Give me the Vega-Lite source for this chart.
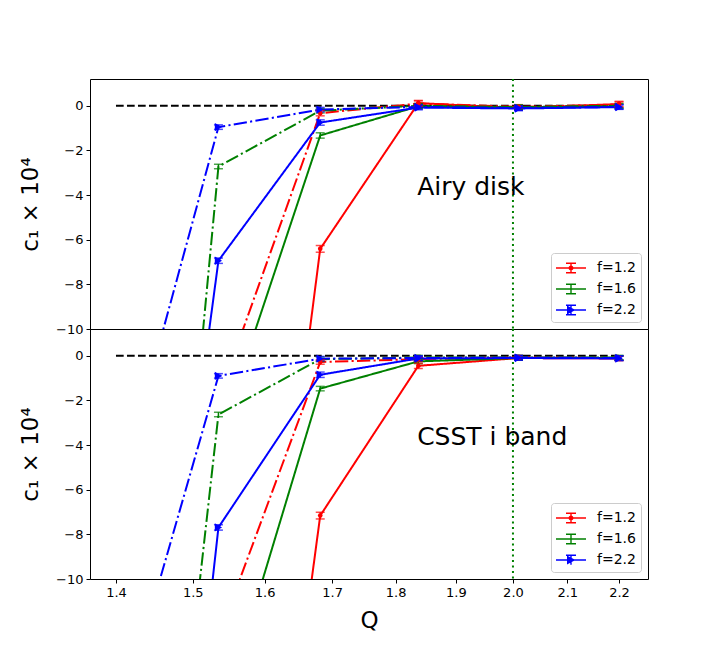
{
  "$schema": "https://vega.github.io/schema/vega-lite/v6.json",
  "background": "white",
  "padding": {"left": 18, "top": 77, "right": 5, "bottom": 5},
  "spacing": 0,
  "bounds": "flush",
  "config": {
    "font": "DejaVu Sans",
    "view": {"stroke": "black", "strokeWidth": 1},
    "axis": {"grid": false, "domain": false, "tickColor": "black", "tickSize": 4, "labelColor": "black", "labelFontSize": 13, "labelPadding": 3, "titleColor": "black", "titleFontWeight": "normal", "titleFontSize": 23, "labelFlush": false, "labelOverlap": false},
    "legend": {"orient": "bottom-right", "offset": 7, "fillColor": "white", "strokeColor": "#cccccc", "cornerRadius": 3, "padding": 5, "labelFontSize": 14, "labelColor": "black", "symbolSize": 400, "rowPadding": 4, "labelOffset": 21, "symbolOpacity": 1, "symbolStrokeWidth": 0}
  },
  "datasets": {
    "airy": [
      {"f": "f=1.2", "style": "solid", "Q": 1.535, "y": -42.0, "lo": -42.0, "hi": -42.0},
      {"f": "f=1.2", "style": "solid", "Q": 1.682, "y": -6.41, "lo": -6.56, "hi": -6.26},
      {"f": "f=1.2", "style": "solid", "Q": 1.837, "y": 0.12, "lo": 0.0, "hi": 0.24},
      {"f": "f=1.2", "style": "solid", "Q": 2.01, "y": -0.1, "lo": -0.2, "hi": 0.0},
      {"f": "f=1.2", "style": "solid", "Q": 2.2, "y": 0.08, "lo": -0.04, "hi": 0.2},
      {"f": "f=1.2", "style": "dashdot", "Q": 1.535, "y": -13.1, "lo": -13.1, "hi": -13.1},
      {"f": "f=1.2", "style": "dashdot", "Q": 1.682, "y": -0.33, "lo": -0.45, "hi": -0.21},
      {"f": "f=1.2", "style": "dashdot", "Q": 1.837, "y": 0.1, "lo": -0.02, "hi": 0.22},
      {"f": "f=1.2", "style": "dashdot", "Q": 2.01, "y": -0.05, "lo": -0.15, "hi": 0.05},
      {"f": "f=1.2", "style": "dashdot", "Q": 2.2, "y": 0.05, "lo": -0.07, "hi": 0.17},
      {"f": "f=1.6", "style": "solid", "Q": 1.535, "y": -15.0, "lo": -15.0, "hi": -15.0},
      {"f": "f=1.6", "style": "solid", "Q": 1.682, "y": -1.33, "lo": -1.45, "hi": -1.21},
      {"f": "f=1.6", "style": "solid", "Q": 1.837, "y": -0.02, "lo": -0.12, "hi": 0.08},
      {"f": "f=1.6", "style": "solid", "Q": 2.01, "y": -0.08, "lo": -0.18, "hi": 0.02},
      {"f": "f=1.6", "style": "solid", "Q": 2.2, "y": -0.02, "lo": -0.12, "hi": 0.08},
      {"f": "f=1.6", "style": "dashdot", "Q": 1.403, "y": -50.4, "lo": -50.4, "hi": -50.4},
      {"f": "f=1.6", "style": "dashdot", "Q": 1.535, "y": -2.72, "lo": -2.82, "hi": -2.62},
      {"f": "f=1.6", "style": "dashdot", "Q": 1.682, "y": -0.22, "lo": -0.32, "hi": -0.12},
      {"f": "f=1.6", "style": "dashdot", "Q": 1.837, "y": 0.0, "lo": -0.1, "hi": 0.1},
      {"f": "f=1.6", "style": "dashdot", "Q": 2.01, "y": -0.06, "lo": -0.16, "hi": 0.04},
      {"f": "f=1.6", "style": "dashdot", "Q": 2.2, "y": 0.0, "lo": -0.1, "hi": 0.1},
      {"f": "f=2.2", "style": "solid", "Q": 1.403, "y": -40.5, "lo": -40.5, "hi": -40.5},
      {"f": "f=2.2", "style": "solid", "Q": 1.535, "y": -6.94, "lo": -7.06, "hi": -6.82},
      {"f": "f=2.2", "style": "solid", "Q": 1.682, "y": -0.75, "lo": -0.87, "hi": -0.63},
      {"f": "f=2.2", "style": "solid", "Q": 1.837, "y": -0.08, "lo": -0.18, "hi": 0.02},
      {"f": "f=2.2", "style": "solid", "Q": 2.01, "y": -0.12, "lo": -0.22, "hi": -0.02},
      {"f": "f=2.2", "style": "solid", "Q": 2.2, "y": -0.06, "lo": -0.16, "hi": 0.04},
      {"f": "f=2.2", "style": "dashdot", "Q": 1.403, "y": -17.4, "lo": -17.4, "hi": -17.4},
      {"f": "f=2.2", "style": "dashdot", "Q": 1.535, "y": -0.955, "lo": -1.055, "hi": -0.855},
      {"f": "f=2.2", "style": "dashdot", "Q": 1.682, "y": -0.17, "lo": -0.27, "hi": -0.07},
      {"f": "f=2.2", "style": "dashdot", "Q": 1.837, "y": -0.05, "lo": -0.15, "hi": 0.05},
      {"f": "f=2.2", "style": "dashdot", "Q": 2.01, "y": -0.1, "lo": -0.2, "hi": 0.0},
      {"f": "f=2.2", "style": "dashdot", "Q": 2.2, "y": -0.05, "lo": -0.15, "hi": 0.05}
    ],
    "csst": [
      {"f": "f=1.2", "style": "solid", "Q": 1.535, "y": -41.3, "lo": -41.3, "hi": -41.3},
      {"f": "f=1.2", "style": "solid", "Q": 1.682, "y": -7.16, "lo": -7.31, "hi": -7.01},
      {"f": "f=1.2", "style": "solid", "Q": 1.837, "y": -0.45, "lo": -0.57, "hi": -0.33},
      {"f": "f=1.2", "style": "solid", "Q": 2.01, "y": -0.1, "lo": -0.2, "hi": 0.0},
      {"f": "f=1.2", "style": "solid", "Q": 2.2, "y": -0.12, "lo": -0.22, "hi": -0.02},
      {"f": "f=1.2", "style": "dashdot", "Q": 1.535, "y": -12.6, "lo": -12.6, "hi": -12.6},
      {"f": "f=1.2", "style": "dashdot", "Q": 1.682, "y": -0.28, "lo": -0.38, "hi": -0.18},
      {"f": "f=1.2", "style": "dashdot", "Q": 1.837, "y": -0.15, "lo": -0.25, "hi": -0.05},
      {"f": "f=1.2", "style": "dashdot", "Q": 2.01, "y": -0.08, "lo": -0.18, "hi": 0.02},
      {"f": "f=1.2", "style": "dashdot", "Q": 2.2, "y": -0.1, "lo": -0.2, "hi": 0.0},
      {"f": "f=1.6", "style": "solid", "Q": 1.535, "y": -16.6, "lo": -16.6, "hi": -16.6},
      {"f": "f=1.6", "style": "solid", "Q": 1.682, "y": -1.47, "lo": -1.57, "hi": -1.37},
      {"f": "f=1.6", "style": "solid", "Q": 1.837, "y": -0.25, "lo": -0.35, "hi": -0.15},
      {"f": "f=1.6", "style": "solid", "Q": 2.01, "y": -0.1, "lo": -0.2, "hi": 0.0},
      {"f": "f=1.6", "style": "solid", "Q": 2.2, "y": -0.1, "lo": -0.2, "hi": 0.0},
      {"f": "f=1.6", "style": "dashdot", "Q": 1.403, "y": -42.7, "lo": -42.7, "hi": -42.7},
      {"f": "f=1.6", "style": "dashdot", "Q": 1.535, "y": -2.63, "lo": -2.73, "hi": -2.53},
      {"f": "f=1.6", "style": "dashdot", "Q": 1.682, "y": -0.15, "lo": -0.25, "hi": -0.05},
      {"f": "f=1.6", "style": "dashdot", "Q": 1.837, "y": -0.08, "lo": -0.18, "hi": 0.02},
      {"f": "f=1.6", "style": "dashdot", "Q": 2.01, "y": -0.08, "lo": -0.18, "hi": 0.02},
      {"f": "f=1.6", "style": "dashdot", "Q": 2.2, "y": -0.08, "lo": -0.18, "hi": 0.02},
      {"f": "f=2.2", "style": "solid", "Q": 1.403, "y": -48.2, "lo": -48.2, "hi": -48.2},
      {"f": "f=2.2", "style": "solid", "Q": 1.535, "y": -7.69, "lo": -7.81, "hi": -7.57},
      {"f": "f=2.2", "style": "solid", "Q": 1.682, "y": -0.85, "lo": -0.97, "hi": -0.73},
      {"f": "f=2.2", "style": "solid", "Q": 1.837, "y": -0.12, "lo": -0.22, "hi": -0.02},
      {"f": "f=2.2", "style": "solid", "Q": 2.01, "y": -0.1, "lo": -0.2, "hi": 0.0},
      {"f": "f=2.2", "style": "solid", "Q": 2.2, "y": -0.12, "lo": -0.22, "hi": -0.02},
      {"f": "f=2.2", "style": "dashdot", "Q": 1.403, "y": -16.5, "lo": -16.5, "hi": -16.5},
      {"f": "f=2.2", "style": "dashdot", "Q": 1.535, "y": -0.9, "lo": -1.0, "hi": -0.8},
      {"f": "f=2.2", "style": "dashdot", "Q": 1.682, "y": -0.13, "lo": -0.23, "hi": -0.03},
      {"f": "f=2.2", "style": "dashdot", "Q": 1.837, "y": -0.1, "lo": -0.2, "hi": 0.0},
      {"f": "f=2.2", "style": "dashdot", "Q": 2.01, "y": -0.08, "lo": -0.18, "hi": 0.02},
      {"f": "f=2.2", "style": "dashdot", "Q": 2.2, "y": -0.1, "lo": -0.2, "hi": 0.0}
    ]
  },
  "resolve": {
    "scale": {"color": "independent", "shape": "independent", "strokeDash": "independent", "stroke": "independent", "fill": "independent"},
    "legend": {"color": "independent", "shape": "independent"}
  },
  "vconcat": [
    {
      "width": 558, "height": 250,
      "encoding": {
        "x": {"field": "Q", "type": "quantitative", "scale": {"type": "log", "domain": [1.3677, 2.258], "nice": false, "zero": false}, "axis": null}
      },
      "layer": [
        {
          "data": {"values": [{"Q": 2.0}]},
          "mark": {"type": "rule", "color": "#008000", "strokeWidth": 2, "strokeDash": [2.1, 3.4]},
          "encoding": {}
        },
        {
          "data": {"values": [{"Q": 1.4, "Q2": 2.2, "y": 0}]},
          "mark": {"type": "rule", "color": "black", "strokeWidth": 2, "strokeDash": [7.7, 3.3]},
          "encoding": {
            "x2": {"field": "Q2"},
            "y": {"field": "y", "type": "quantitative", "scale": {"domain": [-10, 1.2], "nice": false, "zero": false}, "axis": {"values": [-10, -8, -6, -4, -2, 0], "format": "d", "title": "c₁ × 10⁴", "titlePadding": 12, "minExtent": 36, "maxExtent": 36}}
          }
        },
        {
          "data": {"name": "airy"},
          "mark": {"type": "line", "strokeWidth": 2, "clip": true},
          "encoding": {
            "y": {"field": "y", "type": "quantitative"},
            "stroke": {"field": "f", "type": "nominal", "scale": {"range": ["#ff0000", "#008000", "#0000ff"]}, "legend": null},
            "strokeDash": {"field": "style", "type": "nominal", "scale": {"domain": ["solid", "dashdot"], "range": [[1, 0], [13.3, 3.3, 2.1, 3.3]]}, "legend": null}
          }
        },
        {
          "data": {"name": "airy"},
          "mark": {"type": "rule", "strokeWidth": 1.5, "clip": true},
          "encoding": {
            "y": {"field": "lo", "type": "quantitative"},
            "y2": {"field": "hi"},
            "stroke": {"field": "f", "type": "nominal", "legend": null}
          }
        },
        {
          "data": {"name": "airy"},
          "mark": {"type": "tick", "orient": "horizontal", "size": 9, "thickness": 1.5, "clip": true},
          "encoding": {
            "y": {"field": "lo", "type": "quantitative"},
            "fill": {"field": "f", "type": "nominal", "scale": {"range": ["#ff0000", "#008000", "#0000ff"]}, "legend": null}
          }
        },
        {
          "data": {"name": "airy"},
          "mark": {"type": "tick", "orient": "horizontal", "size": 9, "thickness": 1.5, "clip": true},
          "encoding": {
            "y": {"field": "hi", "type": "quantitative"},
            "fill": {"field": "f", "type": "nominal", "legend": null}
          }
        },
        {
          "data": {"name": "airy"},
          "transform": [{"filter": {"field": "f", "equal": "f=1.2"}}],
          "mark": {"type": "point", "filled": true, "shape": "circle", "size": 22, "opacity": 1, "clip": true},
          "encoding": {
            "y": {"field": "y", "type": "quantitative"},
            "fill": {"field": "f", "type": "nominal", "legend": null}
          }
        },
        {
          "data": {"name": "airy"},
          "transform": [{"filter": {"field": "f", "equal": "f=2.2"}}],
          "mark": {"type": "point", "filled": true, "shape": "triangle-right", "size": 70, "opacity": 1, "clip": true},
          "encoding": {
            "y": {"field": "y", "type": "quantitative"},
            "fill": {"field": "f", "type": "nominal", "legend": null}
          }
        },
        {
          "data": {"values": [{"Q": 1.835, "y": -4.0, "label": "Airy disk"}]},
          "mark": {"type": "text", "align": "left", "baseline": "alphabetic", "fontSize": 25, "color": "black"},
          "encoding": {
            "y": {"field": "y", "type": "quantitative"},
            "text": {"field": "label"}
          }
        },
        {
          "data": {"name": "airy"},
          "mark": {"type": "point", "filled": true, "opacity": 0, "clip": true},
          "encoding": {
            "y": {"field": "y", "type": "quantitative"},
            "color": {"field": "f", "type": "nominal", "scale": {"domain": ["f=1.2", "f=1.6", "f=2.2"], "range": ["#ff0000", "#008000", "#0000ff"]}, "legend": {"title": null}},
            "shape": {"field": "f", "type": "nominal", "scale": {"domain": ["f=1.2", "f=1.6", "f=2.2"], "range": [
              "M-1,-0.08H2V0.08H-1ZM0.43,-0.47H0.57V0.47H0.43ZM0,-0.54H1V-0.4H0ZM0,0.4H1V0.54H0ZM0.75,0A0.25,0.25,0,1,1,0.25,0A0.25,0.25,0,1,1,0.75,0Z",
              "M-1,-0.08H2V0.08H-1ZM0.43,-0.47H0.57V0.47H0.43ZM0,-0.54H1V-0.4H0ZM0,0.4H1V0.54H0Z",
              "M-1,-0.08H2V0.08H-1ZM0.43,-0.47H0.57V0.47H0.43ZM0,-0.54H1V-0.4H0ZM0,0.4H1V0.54H0ZM0.1,-0.45L0.95,0L0.1,0.45Z"
            ]}, "legend": {"title": null}}
          }
        }
      ]
    },
    {
      "width": 558, "height": 250,
      "encoding": {
        "x": {"field": "Q", "type": "quantitative", "scale": {"type": "log", "domain": [1.3677, 2.258], "nice": false, "zero": false}, "axis": {"values": [1.4, 1.5, 1.6, 1.7, 1.8, 1.9, 2.0, 2.1, 2.2], "format": ".1f", "title": "Q", "titlePadding": 10}}
      },
      "layer": [
        {
          "data": {"values": [{"Q": 2.0}]},
          "mark": {"type": "rule", "color": "#008000", "strokeWidth": 2, "strokeDash": [2.1, 3.4]},
          "encoding": {}
        },
        {
          "data": {"values": [{"Q": 1.4, "Q2": 2.2, "y": 0}]},
          "mark": {"type": "rule", "color": "black", "strokeWidth": 2, "strokeDash": [7.7, 3.3]},
          "encoding": {
            "x2": {"field": "Q2"},
            "y": {"field": "y", "type": "quantitative", "scale": {"domain": [-10, 1.2], "nice": false, "zero": false}, "axis": {"values": [-10, -8, -6, -4, -2, 0], "format": "d", "title": "c₁ × 10⁴", "titlePadding": 12, "minExtent": 36, "maxExtent": 36}}
          }
        },
        {
          "data": {"name": "csst"},
          "mark": {"type": "line", "strokeWidth": 2, "clip": true},
          "encoding": {
            "y": {"field": "y", "type": "quantitative"},
            "stroke": {"field": "f", "type": "nominal", "scale": {"range": ["#ff0000", "#008000", "#0000ff"]}, "legend": null},
            "strokeDash": {"field": "style", "type": "nominal", "scale": {"domain": ["solid", "dashdot"], "range": [[1, 0], [13.3, 3.3, 2.1, 3.3]]}, "legend": null}
          }
        },
        {
          "data": {"name": "csst"},
          "mark": {"type": "rule", "strokeWidth": 1.5, "clip": true},
          "encoding": {
            "y": {"field": "lo", "type": "quantitative"},
            "y2": {"field": "hi"},
            "stroke": {"field": "f", "type": "nominal", "legend": null}
          }
        },
        {
          "data": {"name": "csst"},
          "mark": {"type": "tick", "orient": "horizontal", "size": 9, "thickness": 1.5, "clip": true},
          "encoding": {
            "y": {"field": "lo", "type": "quantitative"},
            "fill": {"field": "f", "type": "nominal", "scale": {"range": ["#ff0000", "#008000", "#0000ff"]}, "legend": null}
          }
        },
        {
          "data": {"name": "csst"},
          "mark": {"type": "tick", "orient": "horizontal", "size": 9, "thickness": 1.5, "clip": true},
          "encoding": {
            "y": {"field": "hi", "type": "quantitative"},
            "fill": {"field": "f", "type": "nominal", "legend": null}
          }
        },
        {
          "data": {"name": "csst"},
          "transform": [{"filter": {"field": "f", "equal": "f=1.2"}}],
          "mark": {"type": "point", "filled": true, "shape": "circle", "size": 22, "opacity": 1, "clip": true},
          "encoding": {
            "y": {"field": "y", "type": "quantitative"},
            "fill": {"field": "f", "type": "nominal", "legend": null}
          }
        },
        {
          "data": {"name": "csst"},
          "transform": [{"filter": {"field": "f", "equal": "f=2.2"}}],
          "mark": {"type": "point", "filled": true, "shape": "triangle-right", "size": 70, "opacity": 1, "clip": true},
          "encoding": {
            "y": {"field": "y", "type": "quantitative"},
            "fill": {"field": "f", "type": "nominal", "legend": null}
          }
        },
        {
          "data": {"values": [{"Q": 1.835, "y": -4.0, "label": "CSST i band"}]},
          "mark": {"type": "text", "align": "left", "baseline": "alphabetic", "fontSize": 25, "color": "black"},
          "encoding": {
            "y": {"field": "y", "type": "quantitative"},
            "text": {"field": "label"}
          }
        },
        {
          "data": {"name": "csst"},
          "mark": {"type": "point", "filled": true, "opacity": 0, "clip": true},
          "encoding": {
            "y": {"field": "y", "type": "quantitative"},
            "color": {"field": "f", "type": "nominal", "scale": {"domain": ["f=1.2", "f=1.6", "f=2.2"], "range": ["#ff0000", "#008000", "#0000ff"]}, "legend": {"title": null}},
            "shape": {"field": "f", "type": "nominal", "scale": {"domain": ["f=1.2", "f=1.6", "f=2.2"], "range": [
              "M-1,-0.08H2V0.08H-1ZM0.43,-0.47H0.57V0.47H0.43ZM0,-0.54H1V-0.4H0ZM0,0.4H1V0.54H0ZM0.75,0A0.25,0.25,0,1,1,0.25,0A0.25,0.25,0,1,1,0.75,0Z",
              "M-1,-0.08H2V0.08H-1ZM0.43,-0.47H0.57V0.47H0.43ZM0,-0.54H1V-0.4H0ZM0,0.4H1V0.54H0Z",
              "M-1,-0.08H2V0.08H-1ZM0.43,-0.47H0.57V0.47H0.43ZM0,-0.54H1V-0.4H0ZM0.1,-0.45L0.95,0L0.1,0.45Z"
            ]}, "legend": {"title": null}}
          }
        }
      ]
    }
  ]
}
